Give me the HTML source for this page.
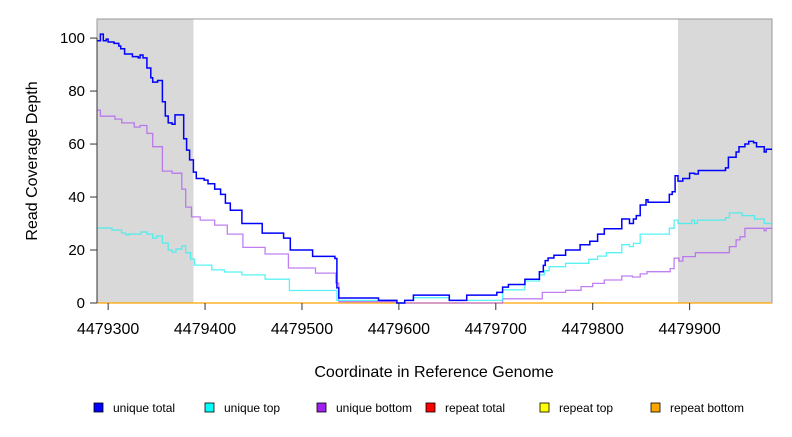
<!DOCTYPE html>
<html><head><meta charset="utf-8"><style>
body{margin:0;background:#fff;font-family:"Liberation Sans",sans-serif}
svg text{font-family:"Liberation Sans",sans-serif}
</style></head><body>
<svg id="chart" width="792" height="432" xmlns="http://www.w3.org/2000/svg"></svg>
<script>
// data (x offsets are coordinate - 4479000)
const BASE = 4479000;
const xTicks = [4479300, 4479400, 4479500, 4479600, 4479700, 4479800, 4479900];
const yTicks = [0, 20, 40, 60, 80, 100];
const grayRegions = [[4479288.5, 4479388], [4479888, 4479985]];
const totalX = [289,292,295,298,300,306,311,313,317,325,331,333,336,340,344,346,351,356,359,362,366,369,378,381,384,388,391,399,403,410,416,421,426,438,459,481,488,511,534,536,538,579,598,606,615,652,670,701,707,713,730,745,749,751,754,760,772,787,797,805,812,830,838,842,845,849,855,857,879,882,885,888,893,900,905,909,937,940,948,951,957,961,966,969,977,979];
const totalY = [99,101.5,99,99.6,98.5,98,97,96,94,93,92.5,93.6,92.5,88.7,85,83.4,84,76,70.6,68,67.5,71,62,57.7,54,49.4,47,46.4,45,43,41,37.7,35,30,26.4,24.5,20,17.6,16.8,5.7,1.9,1,0,1,3,1,3,4,6,7,9,11.8,14.2,16,17,18,20,22,23.3,26,28,31.7,30,31.7,33,37,39,38,41,42,48,46,47,49,48.7,50,51,55,57,59,60,61,60.5,59,57,58];
const topX = [289,304,314,318,321,334,340,346,350,356,362,366,370,376,380,385,389,407,420,438,462,487,536,598,606,615,652,707,730,745,750,755,772,796,805,814,830,838,842,849,879,884,888,902,905,908,937,941,954,967,977];
const topY = [28.3,27.5,26.4,25.7,26,26.8,26,24.5,25.3,22.6,20,19.2,20.4,21.5,19,16.6,14.3,12.5,11.7,10.6,9,4.7,1,0,1,2,1,5,8.3,10.6,12.2,13.7,15,16.5,17.7,19,22,21.3,22.5,26,28.2,31.3,30,31.3,30,31.3,32.2,34,33,31.7,30];
const bottomX = [289,292,307,314,327,333,340,346,356,366,376,380,386,395,410,423,439,462,486,514,535,538,598,707,748,772,788,800,812,830,841,849,856,880,884,889,893,906,941,948,952,957,977,979];
const bottomY = [72.8,70.5,69.4,68,66.4,67,64,59,49.8,49,43,36.2,32.5,31.3,29.4,26,21,18.5,13.2,11.3,7.5,0.5,0,1.6,4,4.8,6.2,7.4,8.7,10.2,9.8,11,11.8,13,16.9,15.8,17.5,19,21.3,23.8,25,28.2,27.3,28.2];
const legendLabels = ["unique total","unique top","unique bottom","repeat total","repeat top","repeat bottom"];
const legendColors = ["#0000ff","#00ffff","#a020f0","#ff0000","#ffff00","#ffa500"];

const NS = "http://www.w3.org/2000/svg";
const svg = document.getElementById('chart');
const L=97,R=772,T=19,B=303;
const xMin=4479288.5,xMax=4479985,yMin=0,yMax=107.2;
const sx = v => L + (v - xMin) / (xMax - xMin) * (R - L);
const sy = v => B - (v - yMin) / (yMax - yMin) * (B - T);
function mk(tag, attrs, parent){const e=document.createElementNS(NS,tag);for(const k in attrs)e.setAttribute(k,attrs[k]);(parent||svg).appendChild(e);return e;}

grayRegions.forEach((g,i)=>{
  const r=mk('rect',{x:sx(g[0]),y:T,width:sx(g[1])-sx(g[0]),height:B-T,fill:'#d9d9d9'});
  
  
});
const box=mk('rect',{x:L,y:T,width:R-L,height:B-T,fill:'none',stroke:'#999','stroke-width':1});



function stepPath(xs, ys){
  let d='';
  for(let i=0;i<xs.length;i++){
    const x0=sx(BASE+xs[i]), x1=sx(i<xs.length-1?BASE+xs[i+1]:xMax), y=sy(ys[i]);
    d += (i===0?'M':'L')+x0.toFixed(1)+','+y.toFixed(1)+'L'+x1.toFixed(1)+','+y.toFixed(1);
  }
  return d;
}
// repeat series at zero
const rep=mk('line',{x1:L,x2:R,y1:sy(0),y2:sy(0),stroke:'#ffa500','stroke-width':1.3});


const sB=mk('path',{d:stepPath(bottomX,bottomY),fill:'none',stroke:'#b060f0','stroke-opacity':0.8,'stroke-width':1.3});


const sT=mk('path',{d:stepPath(topX,topY),fill:'none',stroke:'#30f0f0','stroke-opacity':0.8,'stroke-width':1.3});


const sTot=mk('path',{d:stepPath(totalX,totalY),fill:'none',stroke:'#0000ff','stroke-width':1.5});



// y axis
const ya=mk('line',{x1:L,x2:L,y1:sy(0),y2:sy(100),stroke:'#333'});


yTicks.forEach(v=>{
  const t=mk('line',{x1:L-7,x2:L,y1:sy(v),y2:sy(v),stroke:'#333'});
  
  
  const tx=mk('text',{x:L-12,y:sy(v)+5,'text-anchor':'end','font-size':15,fill:'#000'});
  tx.textContent=v;
  
  
});
xTicks.forEach(v=>{
  const t=mk('line',{x1:sx(v),x2:sx(v),y1:B,y2:B+7,stroke:'#333'});
  
  
  const tx=mk('text',{x:sx(v),y:B+31,'text-anchor':'middle','font-size':16,fill:'#000'});
  tx.textContent=v;
  
  
});
const yt=mk('text',{x:37,y:161,'text-anchor':'middle','font-size':16,transform:'rotate(-90 37 161)'});
yt.textContent='Read Coverage Depth';


const xt=mk('text',{x:434,y:377,'text-anchor':'middle','font-size':16});
xt.textContent='Coordinate in Reference Genome';



const legX=[94,205,317,426,540,651];
legendLabels.forEach((lab,i)=>{
  const g=mk('g',{});
  
  
  mk('rect',{x:legX[i],y:403,width:9,height:9,fill:legendColors[i],stroke:'#000','stroke-width':0.8},g);
  const t=mk('text',{x:legX[i]+19,y:412,'font-size':12},g);
  t.textContent=lab;
});
</script>
</body></html>
